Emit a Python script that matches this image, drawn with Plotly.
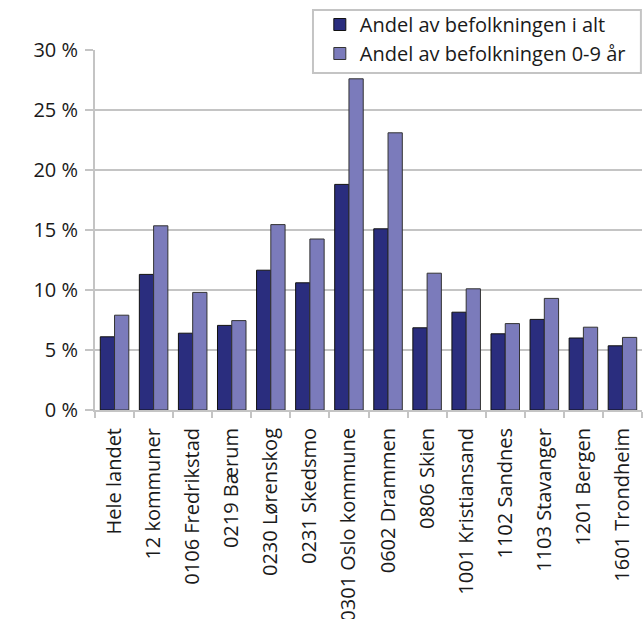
import plotly.graph_objects as go

categories = ["Hele landet", "12 kommuner", "0106 Fredrikstad", "0219 Bærum",
              "0230 Lørenskog", "0231 Skedsmo", "0301 Oslo kommune", "0602 Drammen",
              "0806 Skien", "1001 Kristiansand", "1102 Sandnes", "1103 Stavanger",
              "1201 Bergen", "1601 Trondheim"]
andel_alt = [6.1, 11.3, 6.4, 7.05, 11.65, 10.6, 18.8, 15.1, 6.85, 8.15, 6.35, 7.55, 6.0, 5.35]
andel_0_9 = [7.9, 15.35, 9.8, 7.45, 15.45, 14.25, 27.6, 23.1, 11.4, 10.1, 7.2, 9.3, 6.9, 6.05]
series_names = ["Andel av befolkningen i alt", "Andel av befolkningen 0-9 år"]
y_ticks = [0, 5, 10, 15, 20, 25, 30]
y_ticktext = ["0 %", "5 %", "10 %", "15 %", "20 %", "25 %", "30 %"]

FONT = "Open Sans"
FS = 20

fig = go.Figure()
fig.add_trace(go.Bar(x=categories, y=andel_alt, name=series_names[0],
                     marker=dict(color="#2a2d7e", line=dict(color="#111111", width=1))))
fig.add_trace(go.Bar(x=categories, y=andel_0_9, name=series_names[1],
                     marker=dict(color="#7b7bbb", line=dict(color="#333333", width=1))))

# legend frame (paper coords)
fig.add_shape(type="rect", xref="paper", yref="paper",
              x0=0.3985, x1=0.998, y0=0.936, y1=1.111,
              line=dict(color="#c4c4c4", width=2), fillcolor="white", layer="above")

fig.update_layout(
    width=643, height=619,
    margin=dict(l=95, r=1, t=50, b=209, autoexpand=False),
    paper_bgcolor="white", plot_bgcolor="white",
    font=dict(family=FONT, size=FS, color="#1a1a1a"),
    barmode="group", bargap=0.27, bargroupgap=0,
    showlegend=True,
    legend=dict(x=0.411, y=1.125, xanchor="left", yanchor="top",
                bgcolor="rgba(0,0,0,0)", borderwidth=0,
                font=dict(family=FONT, size=FS, color="#1a1a1a"),
                tracegroupgap=0, itemwidth=30),
)
fig.update_yaxes(range=[0, 30], tickvals=y_ticks, ticktext=y_ticktext, automargin=False,
                 tickfont=dict(family=FONT, size=FS, color="#1a1a1a"),
                 showgrid=True, gridcolor="#c4c4c4", gridwidth=2,
                 showline=True, linecolor="#c4c4c4", linewidth=2,
                 ticks="outside", ticklen=8, tickcolor="#c4c4c4", tickwidth=2,
                 ticklabelstandoff=3, zeroline=False)
fig.update_xaxes(tickangle=-90, showline=True, linecolor="#c4c4c4", linewidth=2, automargin=False,
                 tickfont=dict(family=FONT, size=FS, color="#1a1a1a"),
                 ticks="outside", ticklen=6, tickcolor="#c4c4c4", tickwidth=2,
                 ticklabelstandoff=8, tickson="boundaries", showgrid=False)

fig.write_html("out.html", config={"displayModeBar": False},
               post_script="document.body.style.margin='0';")
